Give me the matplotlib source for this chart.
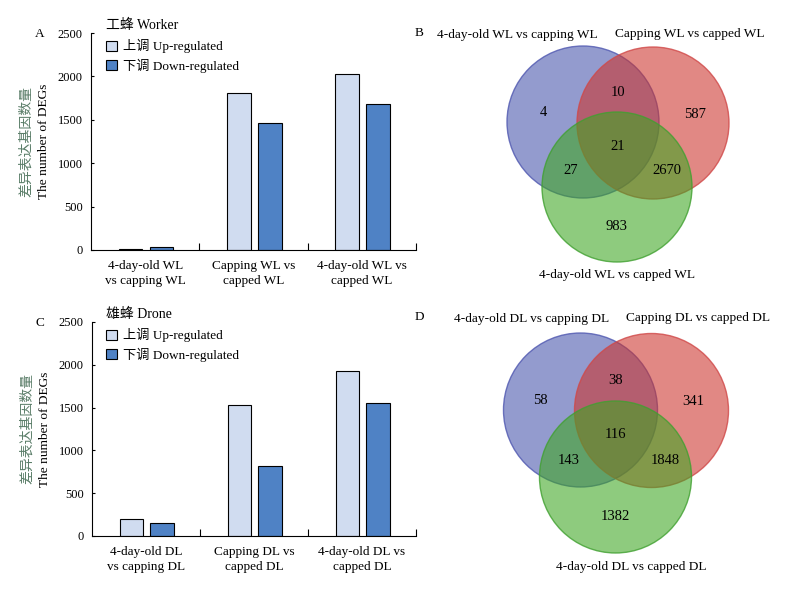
import matplotlib.pyplot as plt
import matplotlib as mpl
from matplotlib.patches import Circle, Patch
import numpy as np

plt.rcParams['font.family'] = ['Liberation Serif', 'Noto Sans CJK SC']
plt.rcParams['font.size'] = 9.5

# bar chart data
worker_groups = ['4-day-old WL\nvs capping WL', 'Capping WL vs\ncapped WL', '4-day-old WL vs\ncapped WL']
worker_up = [12, 1807, 2026]
worker_down = [32, 1461, 1681]

drone_groups = ['4-day-old DL\nvs capping DL', 'Capping DL vs\ncapped DL', '4-day-old DL vs\ncapped DL']
drone_up = [195, 1525, 1933]
drone_down = [148, 817, 1548]

legend_labels = ['上调 Up-regulated', '下调 Down-regulated']

# venn data: A only, AB, B only, ABC, AC, BC, C only
worker_sets = ['4-day-old WL vs capping WL', 'Capping WL vs capped WL', '4-day-old WL vs capped WL']
worker_venn = [4, 10, 587, 21, 27, 2670, 983]
drone_sets = ['4-day-old DL vs capping DL', 'Capping DL vs capped DL', '4-day-old DL vs capped DL']
drone_venn = [58, 38, 341, 116, 143, 1848, 1382]

UP_COLOR = '#d0dcf0'
DOWN_COLOR = '#4f82c5'
W, H = 786, 596

fig = plt.figure(figsize=(W / 100, H / 100), dpi=100)


def px_axes(x0, y0, x1, y1):
    # pixel box -> figure fraction
    return [x0 / W, 1 - y1 / H, (x1 - x0) / W, (y1 - y0) / H]


def bar_panel(box, groups, up, down, letter, title, top_px):
    ax = fig.add_axes(px_axes(*box))
    x = np.arange(len(groups))
    ax.bar(x - 0.135, up, width=0.22, color=UP_COLOR, edgecolor='black', linewidth=0.8)
    ax.bar(x + 0.15, down, width=0.22, color=DOWN_COLOR, edgecolor='black', linewidth=0.8)
    ax.set_xlim(-0.5, 2.5)
    ax.set_ylim(0, 2500)
    ax.set_yticks(range(0, 2501, 500))
    ax.set_xticks(x)
    ax.set_xticklabels(groups, linespacing=1.35)
    ax.set_xticks([0.5, 1.5, 2.5], minor=True)
    ax.tick_params(axis='x', which='major', length=0, pad=7)
    ax.tick_params(axis='x', which='minor', direction='in', length=5, width=0.8)
    ax.tick_params(axis='y', direction='in', length=2, width=0.8, pad=6, labelsize=9)
    for s in ['top', 'right']:
        ax.spines[s].set_visible(False)
    for s in ['left', 'bottom']:
        ax.spines[s].set_linewidth(0.8)
    ax.text(-0.2, 0.5, '差异表达基因数量', transform=ax.transAxes, rotation=90,
            va='center', ha='center', color='#5a7d68', fontsize=10)
    ax.text(-0.145, 0.5, 'The number of DEGs', transform=ax.transAxes, rotation=90,
            va='center', ha='center', fontsize=9.6)
    fig.text(40 / W, 1 - (top_px + 1) / H, letter, va='center', ha='center', fontsize=9.5)
    fig.text(106 / W, 1 - (top_px - 8) / H, title, va='center', ha='left', fontsize=10)
    handles = [Patch(facecolor=UP_COLOR, edgecolor='black', linewidth=0.8),
               Patch(facecolor=DOWN_COLOR, edgecolor='black', linewidth=0.8)]
    ax.legend(handles, legend_labels, loc='upper left', frameon=False,
              bbox_to_anchor=(106 / W, 1 - (top_px + 6) / H), bbox_transform=fig.transFigure,
              borderpad=0, handlelength=0.8, handleheight=0.8, handletextpad=0.5,
              labelspacing=0.4, borderaxespad=0)
    return ax


bar_panel((91, 33, 416, 250), worker_groups, worker_up, worker_down, 'A', '工蜂 Worker', 33)
bar_panel((92, 322, 416, 536), drone_groups, drone_up, drone_down, 'C', '雄蜂 Drone', 322)


def venn_panel(y_off, circles, counts, sets, letter, label_pos):
    ax = fig.add_axes(px_axes(400, y_off, 786, y_off + 298))
    ax.set_xlim(400, 786)
    ax.set_ylim(y_off + 298, y_off)
    ax.axis('off')
    ax.patch.set_alpha(0)
    fills = [(0.27, 0.33, 0.67), (0.80, 0.20, 0.17), (0.24, 0.65, 0.13)]
    edges = ['#4f57b0', '#d04848', '#40a030']
    for (cx, cy, r), fc, ec in zip(circles, fills, edges):
        ax.add_patch(Circle((cx, cy), r, facecolor=fc + (0.58,), edgecolor='none'))
        ax.add_patch(Circle((cx, cy), r, facecolor='none', edgecolor=ec, linewidth=1.0, alpha=0.8))
    (ax_, ay), (bx, by), (gx, gy) = [(c[0], c[1]) for c in circles]
    cxm = (ax_ + bx + gx) / 3
    cym = (ay + by + gy) / 3
    spots = [
        (ax_ - 40, ay - 9),
        ((ax_ + bx) / 2, ay - 29),
        (bx + 42, by - 9),
        (cxm, cym + 2),
        ((ax_ + gx) / 2 - 29, gy - 17),
        ((bx + gx) / 2 + 32, gy - 17),
        (gx, gy + 40),
    ]
    for (x, y), n in zip(spots, counts):
        ax.text(x, y, str(n), ha='center', va='center', fontsize=10.5)
    ax.text(419, label_pos[0][1] - 2, letter, ha='center', va='center', fontsize=9.5)
    for (x, y), s in zip(label_pos, sets):
        ax.text(x, y, s, ha='center', va='center', fontsize=9.6)


venn_panel(0, [(583, 122, 76), (653, 123, 76), (617, 187, 75)], worker_venn, worker_sets, 'B',
           [(517, 35), (690, 34), (617, 275)])
venn_panel(300, [(580.5, 410, 77), (651.5, 410.5, 77), (615.5, 477, 76)], drone_venn, drone_sets, 'D',
           [(532, 319), (698, 318), (631, 567)])

plt.savefig('out.png', dpi=100)
